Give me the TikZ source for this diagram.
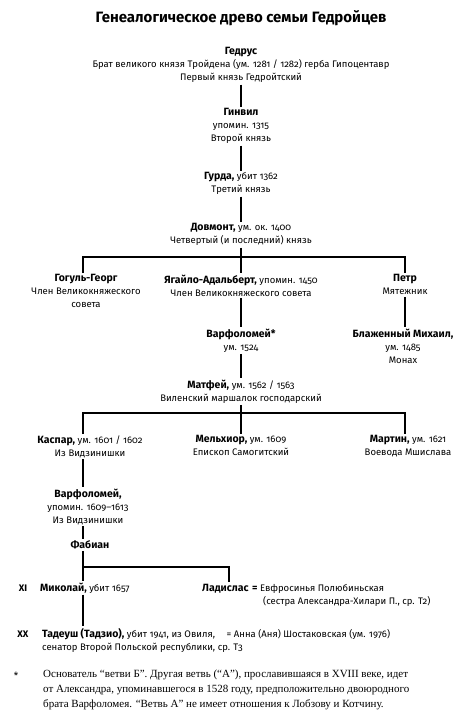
\documentclass[tikz,border=0pt]{standalone}
\usepackage{fontspec}
\setmainfont{Fira Sans}[Numbers=OldStyle]
\newfontfamily\notefont{Liberation Serif}
\usetikzlibrary{positioning, calc}

\newcommand{\pname}[1]{{\fontsize{10.5}{13}\selectfont\bfseries #1}}

\begin{document}
\begin{tikzpicture}[
        x=1pt, y=-1pt,
        person/.style={
            align=center, inner sep=1.5pt,
            font=\fontsize{9.5}{13}\selectfont
        },
        single/.style={
            inner sep=1.5pt, font=\fontsize{9.5}{13}\selectfont
        },
        genlabel/.style={
            inner sep=0pt, font=\fontsize{9.5}{13}\selectfont\bfseries
        },
        link/.style={
            draw=black, line width=1.2pt
        }
    ]
        \useasboundingbox (0,0) rectangle (472,720);

        % ----------------------------------------------------
        % TITLE
        % ----------------------------------------------------
        \node[font=\fontsize{15}{18}\selectfont\bfseries] (title) at (241,18) {Генеалогическое древо семьи Гедройцев};

        % ----------------------------------------------------
        % FIRST PRINCES
        % ----------------------------------------------------
        \node[person, anchor=north] (gedrus) at (241,46) {\pname{Гедрус}\\Брат великого князя Тройдена (ум. 1281 / 1282) герба Гипоцентавр\\Первый князь Гедройтский};
        \node[person, anchor=north] (ginvil) at (241,107) {\pname{Гинвил}\\упомин. 1315\\Второй князь};
        \node[person, anchor=north] (gurda) at (241,171) {\pname{Гурда,} убит 1362\\Третий князь};
        \node[person, anchor=north] (dovmont) at (241,222) {\pname{Довмонт,} ум. ок. 1400\\Четвертый (и последний) князь};

        \draw[link] (gedrus.south) -- (ginvil.north);
        \draw[link] (ginvil.south) -- (gurda.north);
        \draw[link] (gurda.south) -- (dovmont.north);

        % ----------------------------------------------------
        % SONS OF DOVMONT
        % ----------------------------------------------------
        \coordinate (lcol) at (83,0);
        \coordinate (rcol) at (405,0);
        \coordinate (bus1) at (241,257);

        \node[person, anchor=north] (gogul) at (86,273) {\pname{Гогуль-Георг}\\Член Великокняжеского\\совета};
        \node[person, anchor=north] (jagajlo) at (241,273) {\pname{Ягайло-Адальберт,} упомин. 1450\\Член Великокняжеского совета};
        \node[person, anchor=north] (petr) at (405,273) {\pname{Петр}\\Мятежник};

        \draw[link] (dovmont.south) -- (jagajlo.north);
        \draw[link] (gogul.north -| lcol) |- (bus1) -| (petr.north -| rcol);

        \node[person, anchor=north] (varf) at (241,327) {\pname{Варфоломей*}\\ум. 1524};
        \node[person, anchor=north] (mikhail) at (403,327) {\pname{Блаженный Михаил,}\\ум. 1485\\Монах};

        \draw[link] (jagajlo.south) -- (varf.north);
        \draw[link] (petr.south -| rcol) -- (mikhail.north -| rcol);

        % ----------------------------------------------------
        % MATFEJ AND HIS SONS
        % ----------------------------------------------------
        \node[person, anchor=north] (matfej) at (241,378) {\pname{Матфей,} ум. 1562 / 1563\\Виленский маршалок господарский};
        \draw[link] (varf.south) -- (matfej.north);

        \coordinate (bus2) at (241,413);
        \node[person, anchor=north] (kaspar) at (90,434) {\pname{Каспар,} ум. 1601 / 1602\\Из Видзинишки};
        \node[person, anchor=north] (melkhior) at (241,434) {\pname{Мельхиор,} ум. 1609\\Епископ Самогитский};
        \node[person, anchor=north] (martin) at (408,434) {\pname{Мартин,} ум. 1621\\Воевода Мшислава};

        \draw[link] (matfej.south) -- (melkhior.north);
        \draw[link] (kaspar.north -| lcol) |- (bus2) -| (martin.north -| rcol);

        % ----------------------------------------------------
        % LINE OF KASPAR
        % ----------------------------------------------------
        \node[person, anchor=north] (varf2) at (88,487) {\pname{Варфоломей,}\\упомин. 1609--1613\\Из Видзинишки};
        \node[person, anchor=north] (fabian) at (90,539) {\pname{Фабиан}};

        \draw[link] (kaspar.south -| lcol) -- (varf2.north -| lcol);
        \draw[link] (varf2.south -| lcol) -- (fabian.north -| lcol);

        \coordinate (bus3) at (83,567);
        \coordinate (ladcol) at (229,0);
        \node[genlabel, anchor=base] (gen11) at (23,591) {XI};
        \node[single, anchor=base west] (mikolaj) at (38.5,591) {\pname{Миколай,} убит 1657};
        \node[single, anchor=base west] (ladislas) at (200.5,591) {\pname{Ладислас}};
        \node[single, anchor=base west] (evfrosinja) at (ladislas.base east) {\pname{=} Евфросинья Полюбиньская};
        \node[single, anchor=base west] (sister) at (261.5,604) {(сестра Александра-Хилари П., ср. Т2)};

        \draw[link] (fabian.south -| lcol) -- (mikolaj.north -| lcol);
        \draw[link] (bus3) -| (ladislas.north -| ladcol);

        \node[genlabel, anchor=base] (gen20) at (23,637) {XX};
        \node[single, anchor=base west] (tadeusz) at (40.5,637) {\pname{Тадеуш (Тадзио),} убит 1941, из Овиля,};
        \node[single, anchor=base west] (senator) at (40.5,650) {сенатор Второй Польской республики, ср. Т3};
        \node[single, anchor=base west] (anna) at (225,637) {= Анна (Аня) Шостаковская (ум. 1976)};

        \draw[link] (mikolaj.south -| lcol) -- (tadeusz.north -| lcol);

        % ----------------------------------------------------
        % FOOTNOTE
        % ----------------------------------------------------
        \node[inner sep=0pt, font=\fontsize{10}{12}\selectfont] (star) at (16,676) {*};
        \node[inner sep=0pt, anchor=north west, align=left, font=\notefont\fontsize{11}{15}\selectfont] (note) at (43,670) {Основатель “ветви Б”. Другая ветвь (“А”), прославившаяся в XVIII веке, идет\\от Александра, упоминавшегося в 1528 году, предположительно двоюродного\\брата Варфоломея. “Ветвь А” не имеет отношения к Лобзову и Котчину.};

    \end{tikzpicture}
\end{document}
